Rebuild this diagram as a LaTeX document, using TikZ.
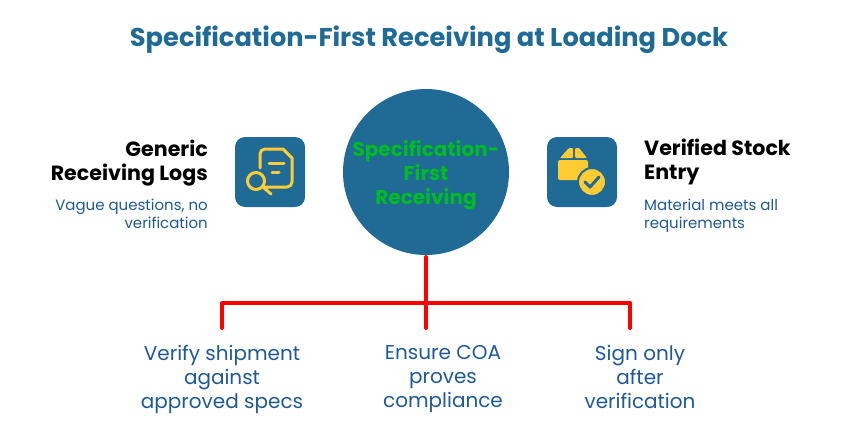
\documentclass[tikz,border=0pt]{standalone}
\usepackage{fontspec}
\setmainfont{Poppins}
\usepackage{xcolor}
\definecolor{hubblue}{HTML}{1F6B96}
\definecolor{textblue}{HTML}{1F5A96}
\definecolor{iconyellow}{HTML}{FFCC33}
\definecolor{hubgreen}{HTML}{00BB22}

\begin{document}
\begin{tikzpicture}[x=1pt,y=-1pt]
	\tikzstyle{edge} = [draw=red, line width=4, line cap=round, line join=round]
	\tikzstyle{iconbox} = [draw=none, fill=hubblue, rounded corners=10]
	\tikzstyle{iconline} = [draw=iconyellow, line width=3, line cap=round, line join=round]
	\tikzstyle{head} = [font=\fontsize{20.6}{24}\selectfont\bfseries, text=black, inner sep=0]
	\tikzstyle{sub} = [font=\fontsize{15}{18}\selectfont, text=textblue, inner sep=0]
	\tikzstyle{leaf} = [font=\fontsize{20}{24}\selectfont, text=textblue, align=center, inner sep=0]
	\useasboundingbox (0,0) rectangle (858,444);
	\fill[white] (0,0) rectangle (858,444);
		\node[font=\fontsize{25.7}{29}\selectfont\bfseries, text=hubblue, inner sep=0] (title) at (429,40) {Specification-First Receiving at Loading Dock};
		\node[circle, fill=hubblue, minimum size=166, inner sep=0] (hub) at (426,172) {};
		\node[font=\fontsize{20}{24}\selectfont\bfseries, text=hubgreen, align=center, inner sep=0] (hubtext) at (426,175) {Specification-\\First\\Receiving};
		% left side
		\node[head, anchor=east, align=right] (lefthead) at (208,163) {Generic\\Receiving Logs};
		\node[sub, anchor=east, align=right] (leftsub) at (208,214) {Vague questions, no\\verification};
		\filldraw[iconbox] (235,137) rectangle (305,207);
		\draw[iconline] (263,187) -- (287,187) arc[start angle=90, end angle=0, radius=5] -- (292,158) -- (283,149) -- (265,149) arc[start angle=-90, end angle=-180, radius=5] -- (260,168);
		\draw[iconline] (269,163) -- (284,163);
		\draw[iconline] (272,172) -- (279,172);
		\draw[iconline] (256,181) circle (8.5);
		\draw[iconline] (263,187) -- (271,194);
		% right side
		\node[head, anchor=west, align=left] (righthead) at (644,162) {Verified Stock\\Entry};
		\node[sub, anchor=west, align=left] (rightsub) at (644,216) {Material meets all\\requirements};
		\filldraw[iconbox] (547,137) rectangle (617,207);
		\fill[iconyellow, rounded corners=2] (558,160) rectangle (588,180);
		\fill[iconyellow, rounded corners=1] (560,158) -- (569,148) -- (573,148) -- (573,158) -- cycle;
		\fill[iconyellow, rounded corners=1] (575,158) -- (575,148) -- (579,148) -- (587,158) -- cycle;
		\filldraw[fill=iconyellow, draw=hubblue, line width=2] (592,182) circle (14);
		\draw[draw=hubblue, line width=3, line cap=round, line join=round] (585,182) -- (590,187) -- (599,177);
		% bottom
		\coordinate (top) at (426,257);
		\coordinate (l) at (222,303);
		\coordinate (r) at (630,303);
		\coordinate (lend) at (222,328);
		\coordinate (mend) at (426,328);
		\coordinate (rend) at (630,328);
		\node[leaf] (verify) at (222,379) {Verify shipment\\against\\approved specs};
		\node[leaf] (ensure) at (443,379) {Ensure COA\\proves\\compliance};
		\node[leaf] (signonly) at (640,377) {Sign only\\after\\verification};
	\draw[edge] (top) -- (mend);
	\draw[edge] (lend) -- (l) -- (r) -- (rend);
\end{tikzpicture}
\end{document}
